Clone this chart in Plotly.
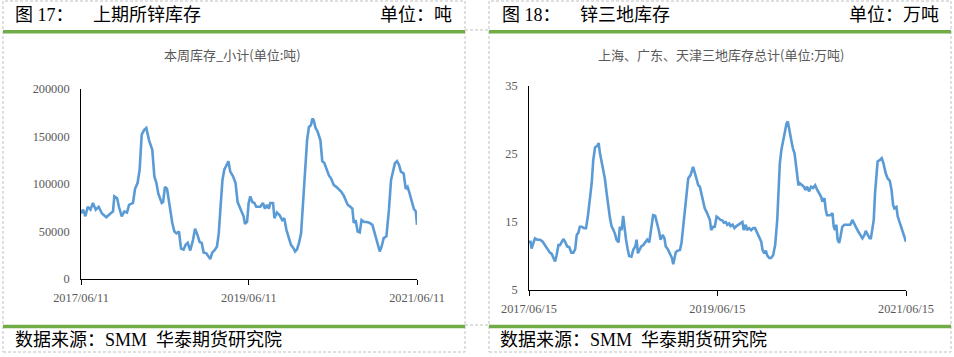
import plotly.graph_objects as go

W, H = 954, 357

# ---------------- data: left panel (上期所锌库存, 吨) ----------------
shfe_days = [0, 9, 19, 29, 41, 52, 64, 77, 91, 110, 128, 139, 145, 157, 165, 177, 188, 200, 209, 226,
             235, 246, 255, 264, 275, 284, 296, 310, 319, 328, 336, 351, 357, 365, 374, 383, 391, 397,
             406, 415, 426, 435, 446, 455, 464, 475, 487, 496, 507, 516, 525, 533, 545, 554, 562, 571,
             580, 591, 599, 606, 615, 623, 635, 641, 649, 661, 672, 681, 693, 702, 707, 713, 722, 729,
             736, 745, 754, 762, 780, 791, 800, 809, 817, 823, 835, 841, 852, 864, 875, 884, 893, 904,
             913, 925, 931, 939, 948, 957, 965, 974, 983, 991, 1000, 1006, 1012, 1020, 1029, 1041,
             1049, 1058, 1067, 1078, 1087, 1099, 1110, 1122, 1131, 1142, 1151, 1160, 1171, 1180,
             1186, 1194, 1203, 1212, 1220, 1232, 1244, 1255, 1267, 1275, 1284, 1293, 1299, 1307,
             1316, 1328, 1333, 1339, 1348, 1357, 1365, 1374, 1383, 1391, 1403, 1412, 1420, 1429,
             1438, 1447, 1456, 1461]
shfe_stock = [69000, 73000, 66000, 76000, 73000, 80000, 73000, 76000, 69000, 65000, 69000, 71000, 87000,
              85000, 76000, 66000, 71000, 70000, 78000, 80000, 95000, 101000, 115000, 152000, 157000,
              159000, 146000, 136000, 108000, 101000, 90000, 80000, 81000, 97000, 95000, 80000, 66000,
              59000, 50000, 48000, 50000, 32000, 31000, 36000, 38000, 30000, 41000, 53000, 46000, 39000,
              38000, 28000, 27000, 23000, 21000, 28000, 30000, 34000, 48000, 73000, 104000, 115000,
              121000, 124000, 113000, 108000, 101000, 81000, 74000, 69000, 66000, 58000, 60000, 80000,
              87000, 81000, 80000, 76000, 76000, 80000, 74000, 78000, 74000, 80000, 80000, 64000, 70000,
              67000, 62000, 64000, 52000, 43000, 36000, 32000, 29000, 31000, 38000, 48000, 76000,
              115000, 146000, 160000, 162000, 169000, 167000, 159000, 155000, 146000, 124000, 122000,
              115000, 109000, 106000, 99000, 97000, 94000, 92000, 88000, 83000, 78000, 76000, 74000,
              59000, 62000, 50000, 49000, 62000, 60000, 60000, 59000, 57000, 50000, 41000, 34000, 29000,
              34000, 43000, 45000, 55000, 73000, 104000, 115000, 122000, 124000, 120000, 113000,
              111000, 95000, 97000, 90000, 83000, 74000, 71000, 57000]
shfe_tickvals = [0, 730, 1461]
shfe_ticklabels = ["2017/06/11", "2019/06/11", "2021/06/11"]

# ---------------- data: right panel (三地库存, 万吨) ----------------
three_days = [0, 6, 10, 17, 23, 32, 43, 53, 62, 68, 75, 81, 88, 94, 101, 107, 114, 120, 126, 133, 141,
              148, 156, 164, 172, 179, 185, 191, 197, 205, 213, 221, 228, 236, 243, 249, 256, 265, 270,
              275, 283, 288, 294, 301, 308, 314, 320, 327, 333, 339, 347, 352, 359, 365, 370, 376, 382,
              388, 397, 404, 412, 417, 422, 427, 435, 443, 450, 458, 466, 471, 476, 481, 489, 497, 503,
              510, 518, 525, 530, 538, 546, 554, 559, 564, 569, 577, 585, 591, 598, 604, 610, 617, 626,
              631, 636, 643, 649, 656, 662, 669, 675, 681, 688, 694, 701, 706, 714, 720, 727, 734, 742,
              750, 755, 763, 768, 776, 781, 789, 796, 804, 812, 820, 827, 832, 840, 845, 853, 861, 869,
              876, 884, 892, 900, 905, 912, 918, 923, 931, 938, 946, 954, 962, 967, 972, 978, 985, 991,
              998, 1003, 1008, 1016, 1023, 1029, 1034, 1039, 1044, 1049, 1057, 1065, 1072, 1078, 1085,
              1093, 1101, 1109, 1116, 1124, 1132, 1137, 1145, 1150, 1155, 1163, 1168, 1176, 1181, 1186,
              1191, 1196, 1202, 1207, 1214, 1222, 1230, 1238, 1245, 1253, 1261, 1269, 1276, 1284, 1292,
              1300, 1305, 1313, 1320, 1325, 1331, 1336, 1341, 1346, 1351, 1359, 1367, 1374, 1382, 1390,
              1398, 1405, 1411, 1416, 1424, 1429, 1436, 1444, 1449, 1455, 1461]
three_stock = [12.1, 12.1, 11.1, 11.8, 12.6, 12.4, 12.4, 12.1, 11.6, 11.1, 10.9, 10.5, 10.3, 9.7, 9.2,
               10.1, 11.6, 11.6, 12.0, 12.5, 12.0, 11.4, 11.3, 10.5, 10.5, 11.0, 13.1, 13.4, 14.3, 14.3,
               14.1, 14.1, 15.8, 18.2, 20.7, 24.1, 26.0, 26.2, 26.6, 25.1, 23.6, 22.4, 21.4, 19.2, 16.8,
               15.5, 14.4, 13.8, 13.3, 12.4, 12.0, 14.3, 13.8, 15.9, 13.8, 12.4, 11.1, 10.0, 9.9, 10.9,
               11.4, 12.4, 10.4, 10.9, 11.4, 11.6, 12.0, 12.4, 12.0, 13.3, 14.8, 16.0, 15.9, 14.8, 13.8,
               12.4, 13.1, 12.6, 11.4, 11.0, 10.4, 9.7, 8.8, 9.9, 10.6, 10.8, 10.9, 11.9, 14.3, 17.3,
               19.2, 21.4, 21.9, 22.4, 23.1, 22.2, 21.4, 20.4, 20.2, 19.0, 18.0, 17.0, 16.5, 16.0, 15.3,
               13.8, 14.3, 14.3, 15.8, 15.6, 15.3, 15.2, 14.9, 15.0, 14.6, 14.8, 14.4, 14.6, 14.1, 14.4,
               14.6, 14.8, 15.0, 13.8, 14.6, 13.8, 14.1, 13.8, 14.1, 14.1, 13.4, 12.8, 12.1, 10.9, 10.4,
               10.8, 10.1, 9.7, 9.7, 10.1, 11.6, 15.3, 20.7, 23.6, 25.6, 27.1, 28.0, 29.5, 29.8, 28.5,
               27.1, 25.8, 25.1, 23.6, 21.7, 20.4, 20.7, 20.4, 20.2, 19.7, 20.2, 19.5, 20.2, 20.0, 20.4,
               19.8, 19.3, 18.7, 18.0, 18.5, 16.8, 16.0, 16.0, 16.0, 16.3, 14.3, 13.8, 14.6, 12.4, 11.9,
               12.8, 14.3, 14.6, 14.6, 14.7, 14.6, 15.3, 14.8, 14.1, 13.6, 13.1, 12.6, 13.1, 13.7, 13.1,
               12.6, 12.6, 14.3, 15.3, 19.2, 22.4, 23.9, 24.1, 24.4, 23.6, 22.2, 21.4, 21.1, 19.7, 17.5,
               17.0, 17.2, 15.8, 15.0, 14.3, 13.8, 13.1, 12.1]
three_tickvals = [0, 730, 1461]
three_ticklabels = ["2017/06/15", "2019/06/15", "2021/06/15"]

# ---------------- helpers ----------------
def px(x):
    return x / W

def py(y):
    return 1 - y / H

LINE_COLOR = "#5B9BD5"
GREEN = "#70AD47"
GRID_GRAY = "#C0C0C0"
TICK_FONT = dict(family="Liberation Serif, Times New Roman, serif", size=12.3, color="#595959")
HEAD_FONT = dict(family="Liberation Serif, Noto Sans CJK SC, serif", size=18, color="#000000")
TITLE_FONT = dict(family="Noto Sans CJK SC, sans-serif", size=13, color="#595959")

fig = go.Figure()
fig.add_trace(go.Scatter(x=shfe_days, y=shfe_stock, mode="lines",
                         line=dict(color=LINE_COLOR, width=2.6), xaxis="x", yaxis="y",
                         showlegend=False, hoverinfo="skip"))
fig.add_trace(go.Scatter(x=three_days, y=three_stock, mode="lines",
                         line=dict(color=LINE_COLOR, width=2.6), xaxis="x2", yaxis="y2",
                         showlegend=False, hoverinfo="skip"))

xcommon = dict(showgrid=False, zeroline=False, showline=True, linecolor="#000000", linewidth=1,
               ticks="outside", ticklen=5, tickcolor="#000000", tickwidth=1, tickfont=TICK_FONT,
               tickmode="array", automargin=False)
ycommon = dict(showgrid=False, zeroline=False, showline=True, linecolor="#000000", linewidth=1,
               ticks="", tickfont=TICK_FONT, ticklabelstandoff=8, automargin=False)

fig.update_layout(
    width=W, height=H, margin=dict(l=0, r=0, t=0, b=0, autoexpand=False),
    paper_bgcolor="white", plot_bgcolor="white",
    xaxis=dict(xcommon, domain=[px(81), px(417)], range=[0, 1461], anchor="y",
               tickvals=shfe_tickvals, ticktext=shfe_ticklabels, ticklabelstandoff=2),
    yaxis=dict(ycommon, domain=[py(279), py(89)], range=[0, 200000], anchor="x",
               tickvals=[0, 50000, 100000, 150000, 200000], tickformat="d"),
    xaxis2=dict(xcommon, domain=[px(529), px(906)], range=[0, 1461], anchor="y2",
                tickvals=three_tickvals, ticktext=three_ticklabels, ticklabelstandoff=2),
    yaxis2=dict(ycommon, domain=[py(290), py(86)], range=[5, 35], anchor="x2",
                tickvals=[5, 15, 25, 35]),
)

shapes = []
# dashed cell borders
for (x0, x1) in [(3, 465), (489, 951)]:
    shapes.append(dict(type="rect", xref="paper", yref="paper", x0=px(x0), x1=px(x1), y0=py(352), y1=py(1),
                       line=dict(color=GRID_GRAY, width=1, dash="3px,2px"), fillcolor="rgba(0,0,0,0)",
                       layer="below"))
for yy in (30, 325):
    shapes.append(dict(type="line", xref="paper", yref="paper", x0=px(465), x1=px(489), y0=py(yy), y1=py(yy),
                       line=dict(color=GRID_GRAY, width=1, dash="3px,2px")))
# green rules
for (x0, x1) in [(3, 465), (489, 951)]:
    for yy in (31.7, 326.5):
        shapes.append(dict(type="line", xref="paper", yref="paper", x0=px(x0), x1=px(x1), y0=py(yy), y1=py(yy),
                           line=dict(color=GREEN, width=3.5)))
fig.update_layout(shapes=shapes)

annotations = []
def add_text(text, x, y, font, xanchor="left"):
    annotations.append(dict(text=text, x=px(x), y=py(y), xref="paper", yref="paper",
                            xanchor=xanchor, yanchor="middle", showarrow=False, font=font))

add_text("图 17：", 13, 15, HEAD_FONT)
add_text("上期所锌库存", 91, 15, HEAD_FONT)
add_text("单位：吨", 454, 15, HEAD_FONT, xanchor="right")
add_text("图 18：", 500, 15, HEAD_FONT)
add_text("锌三地库存", 578, 15, HEAD_FONT)
add_text("单位：万吨", 941, 15, HEAD_FONT, xanchor="right")
add_text("本周库存_小计(单位:吨)", 232, 54, TITLE_FONT, xanchor="center")
add_text("上海、广东、天津三地库存总计(单位:万吨)", 721, 54, TITLE_FONT, xanchor="center")
add_text("数据来源：SMM  华泰期货研究院", 13, 340, HEAD_FONT)
add_text("数据来源：SMM  华泰期货研究院", 498, 340, HEAD_FONT)
fig.update_layout(annotations=annotations)

fig.write_html("out.html", config={"displayModeBar": False, "staticPlot": True},
               post_script="document.body.style.margin='0px';document.body.style.overflow='hidden';")
